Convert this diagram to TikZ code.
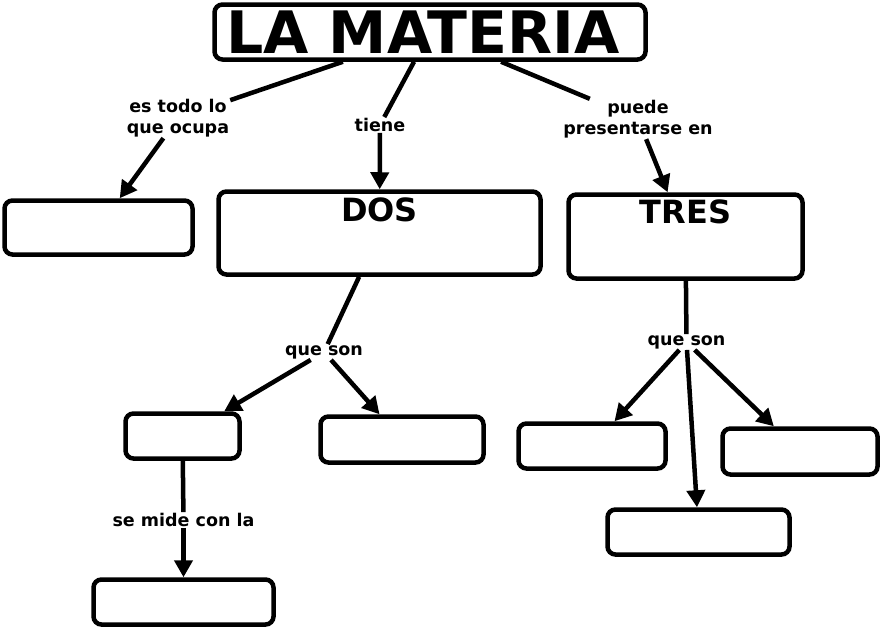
\documentclass[tikz,border=0pt]{standalone}
\usepackage{fontspec}
\setmainfont{DejaVu Sans}
\usetikzlibrary{arrows.meta}

\begin{document}
\begin{tikzpicture}[x=1pt, y=-1pt,
    concept/.style={draw, line width=4.5pt, rounded corners=8pt, inner sep=0pt},
    bigword/.style={font=\bfseries\fontsize{32}{36}\selectfont, inner sep=0pt, anchor=north},
    linkword/.style={align=center, inner sep=1pt, font=\bfseries\fontsize{17.5}{21}\selectfont},
    link/.style={line width=4.5pt},
    linkarrow/.style={line width=4.5pt, -{Triangle[length=17pt, width=18pt]}}]
    \useasboundingbox (0,0) rectangle (882,630);

    \node[concept, minimum width=431pt, minimum height=55pt, font=\bfseries\fontsize{58.5}{62}\selectfont] (materia) at (430,32) {LA MATERIA\hspace*{14pt}};

    \node[concept, minimum width=188pt, minimum height=54pt] (espacio) at (98.5,227.5) {};
    \node[concept, minimum width=322pt, minimum height=83pt] (dos) at (379.5,233) {};
    \node[bigword] (dostxt) at ([yshift=-8pt]dos.north) {DOS};
    \node[concept, minimum width=234pt, minimum height=84pt] (tres) at (685.5,236.5) {};
    \node[bigword] (trestxt) at ([yshift=-7pt]tres.north) {TRES};

    \node[concept, minimum width=114pt, minimum height=45pt] (masa) at (182.5,436) {};
    \node[concept, minimum width=163pt, minimum height=46pt] (volumen) at (402,439.5) {};
    \node[concept, minimum width=180pt, minimum height=45pt] (balanza) at (183.5,602) {};
    \node[concept, minimum width=147pt, minimum height=45pt] (solido) at (592,446) {};
    \node[concept, minimum width=155pt, minimum height=46pt] (gas) at (800,451.5) {};
    \node[concept, minimum width=182pt, minimum height=45pt] (liquido) at (698.5,532) {};

    % linking words
    \node[linkword] (ocupa) at (178,118) {es todo lo\\que ocupa};
    \node[linkword] (tiene) at (380,125) {tiene};
    \node[linkword] (puede) at (638,119) {puede\\presentarse en};
    \node[linkword] (sondos) at (324,352) {que son};
    \node[linkword] (mide) at (183.5,520) {se mide con la};
    \node[linkword] (sontres) at (686.5,342) {que son};

    \draw[link] (materia) -- (ocupa);
    \draw[linkarrow] (ocupa) -- (espacio);
    \draw[link] (materia) -- (tiene);
    \draw[linkarrow] (tiene) -- (dos);
    \draw[link] (materia) -- (puede);
    \draw[linkarrow] (puede) -- (tres);

    \draw[link] (dos) -- (sondos);
    \draw[linkarrow] (sondos) -- (masa);
    \draw[linkarrow] (sondos) -- (volumen);
    \draw[link] (masa) -- (mide);
    \draw[linkarrow] (mide) -- (balanza);

    \draw[link] (tres) -- (sontres);
    \draw[linkarrow] (sontres) -- (solido);
    \draw[linkarrow] (sontres) -- (liquido);
    \draw[linkarrow] (sontres) -- (gas);
\end{tikzpicture}
\end{document}
